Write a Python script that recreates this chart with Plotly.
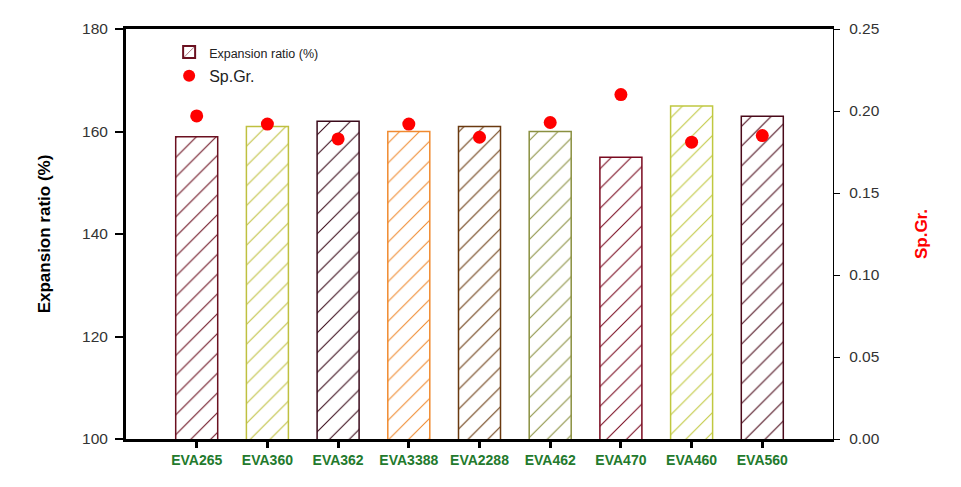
import plotly.graph_objects as go

categories = ["EVA265", "EVA360", "EVA362", "EVA3388", "EVA2288", "EVA462", "EVA470", "EVA460", "EVA560"]
expansion_ratio = [159, 161, 162, 160, 161, 160, 155, 165, 163]
sp_gr = [0.197, 0.192, 0.183, 0.192, 0.184, 0.193, 0.210, 0.181, 0.185]
bar_colors = ["#6b1020", "#bfc040", "#3a0a1a", "#f08a30", "#6a3a10", "#8a9040", "#7a0a20", "#c0c840", "#4a0a1a"]
left_ticks = [100, 120, 140, 160, 180]
right_ticks = [0.00, 0.05, 0.10, 0.15, 0.20, 0.25]

fig = go.Figure()
fig.add_trace(go.Bar(
    x=categories, y=expansion_ratio,
    name="<span style='font-size:12.5px'>Expansion ratio (%)</span>",
    marker=dict(color="white",
                line=dict(color=bar_colors, width=1.5),
                pattern=dict(shape="/", fgcolor=bar_colors, bgcolor="white", fgopacity=1,
                             size=14, solidity=0.075)),
    yaxis="y",
))
fig.add_trace(go.Scatter(
    x=categories, y=sp_gr, mode="markers", name="Sp.Gr.",
    marker=dict(color="#ff0000", size=13),
    yaxis="y2",
))

fig.update_layout(
    width=961, height=487,
    margin=dict(l=126, r=128, t=29, b=48),
    paper_bgcolor="white", plot_bgcolor="white",
    bargap=0.406,
    font=dict(family="Liberation Sans, Arial, sans-serif", color="#333333"),
    xaxis=dict(
        type="category", range=[-1, 9],
        showline=True, linecolor="black", linewidth=3, mirror=True,
        ticks="outside", ticklen=6, tickwidth=2.5, tickcolor="black",
        tickfont=dict(size=14, color="#237a2d", weight="bold"),
        showgrid=False, zeroline=False,
    ),
    yaxis=dict(
        range=[100, 180], tickvals=left_ticks, ticktext=[str(v) for v in left_ticks],
        showline=True, linecolor="black", linewidth=3,
        ticks="outside", ticklen=8, tickwidth=2, tickcolor="black",
        tickfont=dict(size=15.5, color="#333333"), ticklabelstandoff=4,
        showgrid=False, zeroline=False,
        title=dict(text="Expansion ratio (%)", font=dict(size=17, color="black", weight="bold"), standoff=28),
    ),
    yaxis2=dict(
        overlaying="y", side="right", range=[0, 0.25],
        tickvals=right_ticks, ticktext=[f"{v:.2f}" for v in right_ticks],
        showline=True, linecolor="black", linewidth=1.2,
        ticks="outside", ticklen=6, tickwidth=1, tickcolor="black",
        tickfont=dict(size=15.5, color="#333333"), ticklabelstandoff=6,
        showgrid=False, zeroline=False,
        title=dict(text="Sp.Gr.", font=dict(size=17, color="#ff0000", weight="bold"), standoff=36),
    ),
    legend=dict(
        x=0.061, y=0.985, xanchor="left", yanchor="top",
        bgcolor="rgba(0,0,0,0)", font=dict(size=16, color="#222222"),
        tracegroupgap=0, itemsizing="constant",
    ),
    showlegend=True,
)

fig.write_html("out.html")
